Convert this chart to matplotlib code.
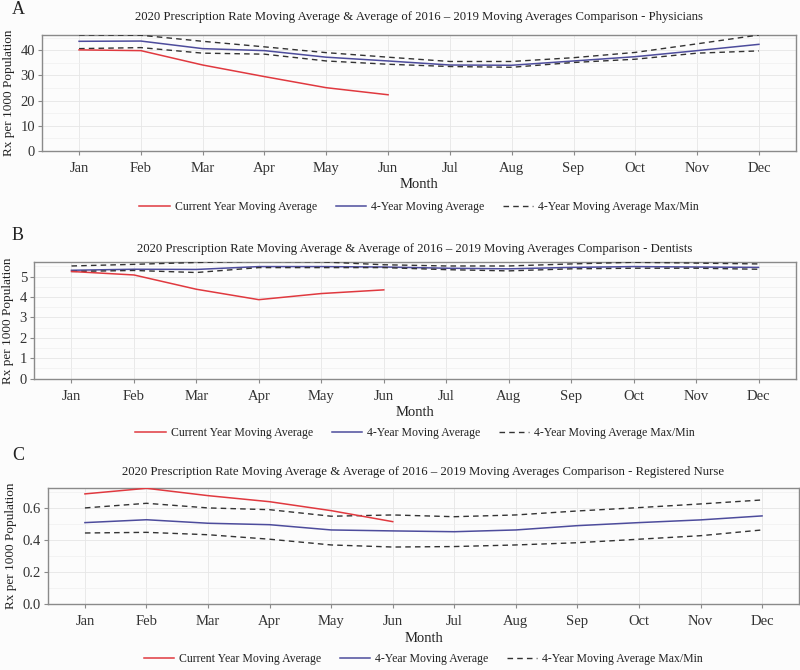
import matplotlib
matplotlib.use("Agg")
import matplotlib.pyplot as plt
from matplotlib.ticker import MultipleLocator, FormatStrFormatter
from matplotlib.lines import Line2D

plt.rcParams['font.family'] = ['Liberation Serif', 'DejaVu Serif']

months = ["Jan", "Feb", "Mar", "Apr", "May", "Jun", "Jul", "Aug", "Sep", "Oct", "Nov", "Dec"]

# Panel A - Physicians
phys_current = [40.1, 39.8, 34.1, 29.5, 25.1, 22.3]
phys_avg = [43.5, 43.6, 40.6, 39.8, 37.2, 35.7, 34.1, 34.0, 35.7, 37.4, 39.8, 42.3]
phys_max = [46.0, 45.9, 43.5, 41.3, 39.0, 37.2, 35.5, 35.5, 37.0, 39.1, 42.5, 46.0]
phys_min = [40.6, 41.0, 38.8, 38.4, 35.7, 34.4, 33.5, 33.2, 35.1, 36.4, 38.8, 39.7]

# Panel B - Dentists
dent_current = [5.25, 5.08, 4.38, 3.87, 4.17, 4.35]
dent_avg = [5.31, 5.36, 5.35, 5.49, 5.49, 5.47, 5.41, 5.38, 5.45, 5.49, 5.47, 5.45]
dent_max = [5.52, 5.60, 5.69, 5.75, 5.72, 5.58, 5.52, 5.52, 5.62, 5.70, 5.66, 5.62]
dent_min = [5.25, 5.30, 5.20, 5.44, 5.44, 5.44, 5.34, 5.28, 5.38, 5.41, 5.41, 5.36]

# Panel C - Registered Nurse
rn_current = [0.690, 0.725, 0.679, 0.641, 0.585, 0.516]
rn_avg = [0.510, 0.528, 0.506, 0.497, 0.464, 0.458, 0.453, 0.464, 0.491, 0.510, 0.527, 0.552]
rn_max = [0.602, 0.631, 0.602, 0.591, 0.550, 0.558, 0.547, 0.558, 0.583, 0.604, 0.627, 0.652]
rn_min = [0.445, 0.449, 0.434, 0.406, 0.370, 0.357, 0.360, 0.370, 0.384, 0.406, 0.428, 0.464]

titles = [
    "2020 Prescription Rate Moving Average & Average of 2016 \u2013 2019 Moving Averages Comparison - Physicians",
    "2020 Prescription Rate Moving Average & Average of 2016 \u2013 2019 Moving Averages Comparison - Dentists",
    "2020 Prescription Rate Moving Average & Average of 2016 \u2013 2019 Moving Averages Comparison - Registered Nurse",
]
panel_letters = ["A", "B", "C"]
legend_labels = ["Current Year Moving Average", "4-Year Moving Average", "4-Year Moving Average Max/Min"]

RED = "#e0393f"
BLUE = "#4d4c9c"
DASH = "#333333"
BG = "#fcfcfc"

W, H = 800, 670
fig = plt.figure(figsize=(8, 6.7), dpi=100, facecolor=BG)

def fx(px):
    return px / W

def fy(py):
    return 1 - py / H

# (left, top, right, bottom) in pixels
boxes = [(42, 35, 796, 151), (34, 262.3, 796, 378.7), (48, 488.3, 799, 604)]
ylims = [(0, 46), (0, 5.7), (0, 0.725)]
majors = [10, 1, 0.2]
minors = [5, 0.5, 0.1]
fmts = ["%d", "%d", "%.1f"]
title_y = [17, 249, 472]
letter_y = [10, 236, 455]
legend_y = [207, 433, 659]
month_y = [185, 412, 638]
data = [
    (phys_current, phys_avg, phys_max, phys_min),
    (dent_current, dent_avg, dent_max, dent_min),
    (rn_current, rn_avg, rn_max, rn_min),
]

x_all = list(range(1, 13))

for i in range(3):
    l, t, r, b = boxes[i]
    ax = fig.add_axes([fx(l), fy(b), fx(r - l), (b - t) / H])
    ax.set_facecolor(BG)
    cur, avg, mx, mn = data[i]
    ax.plot(x_all[:len(cur)], cur, color=RED, lw=1.1, zorder=4)
    ax.plot(x_all, avg, color=BLUE, lw=1.1, zorder=3)
    ax.plot(x_all, mx, color=DASH, lw=1.0, ls=(0, (4, 3)), zorder=3)
    ax.plot(x_all, mn, color=DASH, lw=1.0, ls=(0, (4, 3)), zorder=3)

    ax.set_xlim(0.4, 12.6)
    ax.set_ylim(*ylims[i])
    ax.set_xticks(x_all)
    ax.set_xticklabels(months)
    ax.yaxis.set_major_locator(MultipleLocator(majors[i]))
    ax.yaxis.set_minor_locator(MultipleLocator(minors[i]))
    ax.yaxis.set_major_formatter(FormatStrFormatter(fmts[i]))
    ax.grid(True, which="major", color="#e6e6e6", lw=0.6)
    ax.grid(True, which="minor", axis="y", color="#f0f0f0", lw=0.5)
    ax.set_axisbelow(True)
    for s in ax.spines.values():
        s.set_color("#8a8a8a")
        s.set_linewidth(1.0)
    ax.tick_params(axis="both", which="major", labelsize=10.5, colors="#8a8a8a",
                   labelcolor="#333333", length=3, width=0.8, pad=5)
    ax.tick_params(axis="y", which="major", pad=2)
    ax.tick_params(which="minor", length=0)
    ax.set_ylabel("Rx per 1000 Population", fontsize=9.5, color="#222222", labelpad=4)

    fig.text(fx((l + r) / 2), fy(title_y[i]), titles[i], ha="center", va="center",
             fontsize=9.2, color="#222222")
    fig.text(fx(18), fy(letter_y[i]), panel_letters[i], ha="center", va="center",
             fontsize=13, color="#222222")
    fig.text(fx((l + r) / 2), fy(month_y[i]), "Month", ha="center", va="center",
             fontsize=10.5, color="#222222")

    handles = [
        Line2D([], [], color=RED, lw=1.1),
        Line2D([], [], color=BLUE, lw=1.1),
        Line2D([], [], color=DASH, lw=1.0, ls=(0, (4, 3))),
    ]
    fig.legend(handles, legend_labels, loc="center", ncol=3,
               bbox_to_anchor=(fx((l + r) / 2), fy(legend_y[i])),
               frameon=False, fontsize=8.5, handlelength=2.55, handletextpad=0.42,
               columnspacing=1.6, labelcolor="#222222")

fig.savefig("out.png", dpi=100, facecolor=BG)
